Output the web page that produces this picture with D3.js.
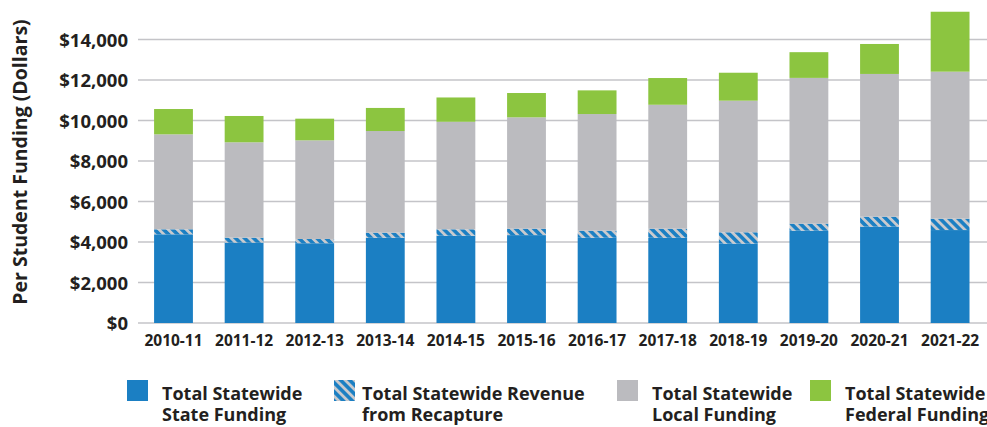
<!DOCTYPE html>
<html>
<head>
<meta charset="utf-8">
<script src="https://cdn.jsdelivr.net/npm/d3@7"></script>
<style>
  body { margin: 0; background: #fff; }
  svg { display: block; font-family: "Open Sans", sans-serif; }
</style>
</head>
<body>
<div class="chart"></div>
<script>
var years = ["2010-11","2011-12","2012-13","2013-14","2014-15","2015-16","2016-17","2017-18","2018-19","2019-20","2020-21","2021-22"];
var stateFunding = [4380, 3970, 3940, 4210, 4310, 4340, 4210, 4210, 3920, 4560, 4760, 4590];
var recapture    = [ 247,  243,  210,  250,  317,  317,  348,  447,  559,  344,  489,  561];
var localFunding = [4690, 4710, 4870, 5020, 5310, 5500, 5760, 6120, 6500, 7200, 7050, 7260];
var federalFunding = [1250, 1300, 1070, 1140, 1200, 1200, 1170, 1320, 1380, 1270, 1480, 2960];
var yTicks = [0, 2000, 4000, 6000, 8000, 10000, 12000, 14000];

var seriesKeys = ["state", "recapture", "local", "federal"];
var seriesNames = [["Total Statewide", "State Funding"], ["Total Statewide Revenue", "from Recapture"], ["Total Statewide", "Local Funding"], ["Total Statewide", "Federal Funding"]];
var colors = {state: "#1b7fc3", recapture: "url(#hatch)", local: "#bbbbbf", federal: "#8cc540"};

var data = years.map(function(y, i) {
  return {year: y, state: stateFunding[i], recapture: recapture[i], local: localFunding[i], federal: federalFunding[i]};
});

var w = 987, h = 427;
var svg = d3.select("div.chart").append("svg").attr("width", w).attr("height", h);

// hatch for recapture
var pat = svg.append("defs").append("pattern")
  .attr("id", "hatch")
  .attr("patternUnits", "userSpaceOnUse")
  .attr("width", 6.4).attr("height", 6.4)
  .attr("patternTransform", "rotate(-45)");
pat.append("rect").attr("width", 6.4).attr("height", 6.4).attr("fill", "#1b7fc3");
pat.append("rect").attr("width", 2.8).attr("height", 6.4).attr("fill", "#c9cace");

var x = d3.scaleBand().domain(years).range([138.2, 985.4]).paddingInner(0.45).paddingOuter(0.225);
var y = d3.scaleLinear().domain([0, 16000]).range([323, -1]);

// gridlines
svg.append("g").attr("class", "grid")
  .selectAll("line").data(yTicks).enter().append("line")
  .attr("x1", 138).attr("x2", w)
  .attr("y1", function(d){ return y(d); })
  .attr("y2", function(d){ return y(d); })
  .attr("stroke", "#c4c4c8")
  .attr("stroke-width", 1.6);

// y labels
var yAxis = d3.axisLeft(y).tickValues(yTicks).tickSize(0).tickPadding(0)
  .tickFormat(function(d){ return "$" + d3.format(",")(d); });
svg.append("g").attr("transform", "translate(128,0)").call(yAxis)
  .call(function(g){ g.select(".domain").remove(); })
  .selectAll("text")
    .attr("font-family", "'Open Sans', sans-serif")
    .attr("font-size", 18.5)
    .attr("font-weight", 700)
    .attr("fill", "#231f20")
    .attr("dy", "0.36em");

var stack = d3.stack().keys(seriesKeys);
var layers = stack(data);

svg.append("g").selectAll("g").data(layers).enter().append("g")
  .attr("fill", function(d){ return colors[d.key]; })
  .selectAll("rect").data(function(d){ return d; }).enter().append("rect")
    .attr("x", function(d){ return x(d.data.year); })
    .attr("width", x.bandwidth())
    .attr("y", function(d){ return y(d[1]); })
    .attr("height", function(d){ return y(d[0]) - y(d[1]); });

// x labels
var xAxis = d3.axisBottom(x).tickSize(0).tickPadding(0);
svg.append("g").attr("transform", "translate(0,346)").call(xAxis)
  .call(function(g){ g.select(".domain").remove(); })
  .selectAll("text")
    .attr("font-family", "'Open Sans', sans-serif")
    .attr("font-size", 15.5)
    .attr("font-weight", 700)
    .attr("fill", "#231f20")
    .attr("dy", 0);

// y title
svg.append("text")
  .attr("transform", "translate(27,162) rotate(-90)")
  .attr("text-anchor", "middle")
  .attr("font-size", 19.5)
  .attr("font-weight", 700)
  .attr("fill", "#231f20")
  .text("Per Student Funding (Dollars)");

// legend
var legendX = [127, 334, 617, 810];
var legend = svg.append("g").selectAll("g").data(seriesKeys).enter().append("g")
  .attr("transform", function(d, i){ return "translate(" + legendX[i] + ",380)"; });
legend.append("rect").attr("width", 21).attr("height", 21)
  .attr("fill", function(d){ return colors[d]; });
legend.append("text")
  .attr("x", function(d, i){ return i == 1 ? 28 : 35; })
  .attr("y", 20)
  .attr("font-size", 18)
  .attr("font-weight", 700)
  .attr("fill", "#231f20")
  .selectAll("tspan").data(function(d, i){ return seriesNames[i]; }).enter().append("tspan")
    .attr("x", function(){ return this.parentNode.getAttribute("x"); })
    .attr("dy", function(d, j){ return j == 0 ? 0 : 21; })
    .text(function(d){ return d; });
</script>
</body>
</html>
